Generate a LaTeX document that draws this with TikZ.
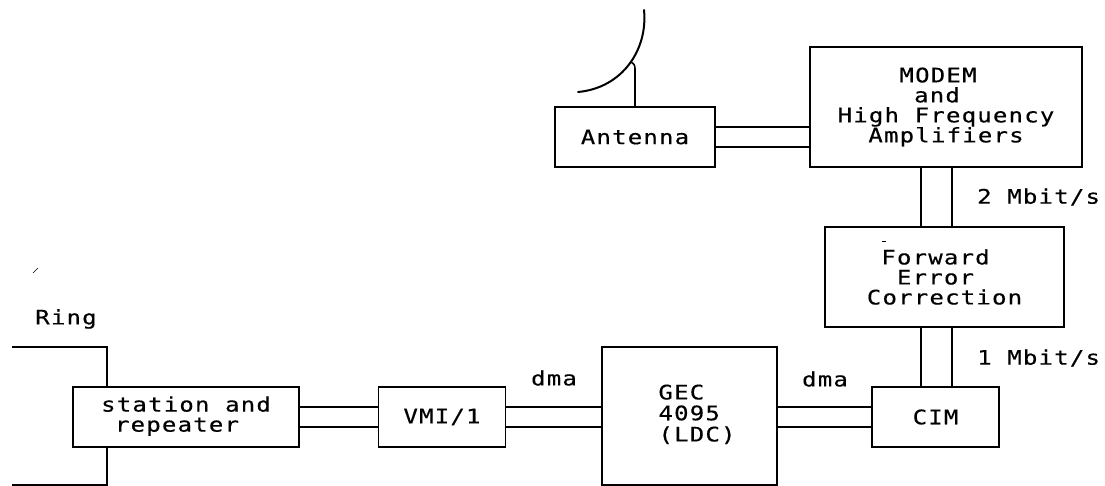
\documentclass[tikz,border=0pt]{standalone}
\usepackage{fontspec}
\newfontfamily\plotfont[FakeStretch=1.2,LetterSpace=6,FakeBold=0.4]{DejaVu Sans Mono}
\setlength{\tabcolsep}{0pt}
\tikzset{
  x=1pt,y=-1pt,
  box/.style={draw,line width=1.8pt,minimum width=#1,inner sep=0pt,align=center,font=\plotfont\fontsize{20}{20}\selectfont},
  lbl/.style={inner sep=0pt,font=\plotfont\fontsize{20}{20}\selectfont},
  wire/.style={line width=1.6pt},
}
\begin{document}
\begin{tikzpicture}
\useasboundingbox (0,0) rectangle (1105,486);
\fill[white] (0,0) rectangle (1105,486);
\node[box=160pt,minimum height=60pt] (ant) at (635,137) {Antenna};
\node[box=272pt,minimum height=120pt] (modem) at (946,107) {\hspace*{-16pt}MODEM\\\hspace*{-18pt}and\\High Frequency\\Amplifiers};
\node[box=239pt,minimum height=100pt] (fec) at (944.5,277) {\hspace*{-18pt}Forward\\\hspace*{-18pt}Error\\Correction};
\node[box=127pt,minimum height=60pt] (cim) at (935.5,417) {CIM};
\node[box=175pt,minimum height=138pt] (gec) at (689.5,416) {\hspace*{15pt}\begin{tabular}{l}GEC\\4095\\(LDC)\end{tabular}};
\node[box=127pt,minimum height=60pt] (vmi) at (442,417) {VMI/1};
\node[box=226pt,minimum height=60pt] (st) at (186,417) {\raisebox{7.5pt}{\begin{tabular}{c}station and\\\hspace*{-18pt}repeater\end{tabular}}};
% double wires
\coordinate (u) at (0,407);
\coordinate (v) at (0,427);
\draw[wire] (st.east |- u) -- (vmi.west |- u);
\draw[wire] (st.east |- v) -- (vmi.west |- v);
\draw[wire] (vmi.east |- u) -- (gec.west |- u);
\draw[wire] (vmi.east |- v) -- (gec.west |- v);
\draw[wire] (gec.east |- u) -- (cim.west |- u);
\draw[wire] (gec.east |- v) -- (cim.west |- v);
\draw[wire] ([yshift=10pt]ant.east) -- ([yshift=10pt]ant.east -| modem.west);
\draw[wire] ([yshift=-10pt]ant.east) -- ([yshift=-10pt]ant.east -| modem.west);
\coordinate (va) at (921,200);
\coordinate (vb) at (952,200);
\draw[wire] (va |- modem.south) -- (va |- fec.north);
\draw[wire] (vb |- modem.south) -- (vb |- fec.north);
\draw[wire] (va |- fec.south) -- (va |- cim.north);
\draw[wire] (vb |- fec.south) -- (vb |- cim.north);
% ring
\coordinate (r1) at (12,347);
\coordinate (r2) at (12,485);
\draw[wire] (r1) -| ([xshift=-79pt]st.north);
\draw[wire] (r2) -| ([xshift=-79pt]st.south);
% dish
\coordinate (dishA) at (644,10);
\coordinate (dishB) at (578,92);
\draw[line width=2pt,line cap=round] (dishA) .. controls (648,50) and (622,88) .. (dishB);
\draw[wire] (ant.north) -- (635,69) .. controls (635,65) and (634,64) .. (631,62);
% labels
\node[lbl] (ring) at (66,319) {Ring};
\node[lbl] (d1) at (554,378) {dma};
\node[lbl] (d2) at (825,379) {dma};
\node[lbl,anchor=west] (m2) at (977,197) {2 Mbit/s};
\node[lbl,anchor=west] (m1) at (977,358) {1 Mbit/s};
% specks
\draw[line width=.6pt] (33,273) -- (38,268);
\draw[line width=.8pt] (882,241) -- (886,241);
\end{tikzpicture}
\end{document}
